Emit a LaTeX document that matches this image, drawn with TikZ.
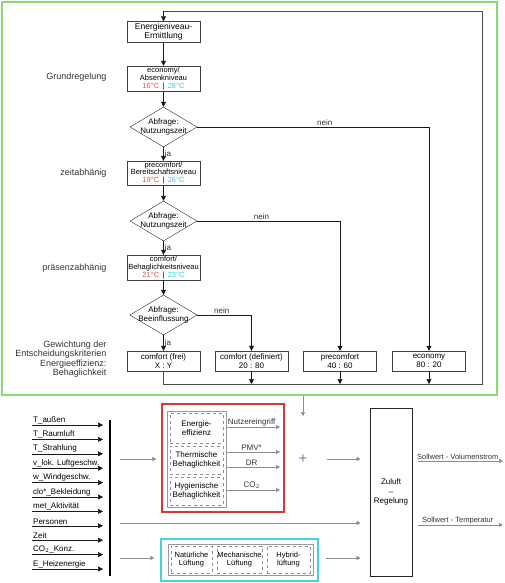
\documentclass[tikz,border=0pt]{standalone}
\usepackage{fontspec}
\setmainfont{Liberation Sans}
\usetikzlibrary{arrows.meta,shapes.geometric,positioning}
\definecolor{tred}{HTML}{D9534F}
\definecolor{tcyan}{HTML}{3CC8D8}
\definecolor{fgreen}{HTML}{86DD72}
\definecolor{fred}{HTML}{D03A3A}
\definecolor{fcyan}{HTML}{46D2E0}

\begin{document}
\begin{tikzpicture}[x=1pt, y=-1pt,
    stage/.style={draw=black!75, minimum width=73pt, minimum height=24pt, inner sep=0.5pt, align=center, font=\fontsize{7.5}{7.8}\selectfont},
    query/.style={draw=black!85, shape=diamond, aspect=1.7, minimum width=67pt, minimum height=40pt, inner sep=-2pt, align=center, font=\fontsize{8}{9}\selectfont},
    weight/.style={draw=black!75, minimum width=73pt, minimum height=20pt, inner sep=0.5pt, align=center, font=\fontsize{8}{8.5}\selectfont},
    side/.style={anchor=east, align=right, text=black!80, font=\fontsize{9}{9.5}\selectfont},
    lbl/.style={text=black!80, inner sep=1pt, font=\fontsize{8}{9}\selectfont},
    arr/.style={-{Triangle[length=5pt, width=5pt]}, black!90, semithick},
    loopline/.style={black!70, semithick},
    garr/.style={-{Triangle[length=4pt, width=4pt]}, black!45, semithick},
    inp/.style={anchor=south west, inner sep=1pt, font=\fontsize{8}{8.5}\selectfont},
    sub/.style={draw=black!45, dashed, inner sep=0.5pt, align=center, font=\fontsize{8}{9}\selectfont},
    inner/.style={draw=black!40, inner sep=0pt}
]
\useasboundingbox (0,0) rectangle (504,583);

% Regelkreis oben
\node[draw=fgreen, line width=2pt, minimum width=495pt, minimum height=393pt, inner sep=0pt] (ctrl) at (249,198.5) {};

\node[stage, minimum height=21pt, font=\fontsize{8.5}{9.5}\selectfont] (en) at (163.5,32) {Energieniveau-\\Ermittlung};
\node[stage, minimum height=25pt] (eco) at (163.5,78.5) {economy/\\Absenkniveau\\{\color{tred}16°C}\, | \,{\color{tcyan}28°C}};
\node[query] (q1) at (163.5,127) {Abfrage:\\Nutzungszeit};
\node[stage] (pre) at (163.5,173) {precomfort/\\Bereitschaftsniveau\\{\color{tred}19°C}\, | \,{\color{tcyan}26°C}};
\node[query] (q2) at (163.5,221) {Abfrage:\\Nutzungszeit};
\node[stage, minimum height=25pt] (com) at (163.5,267.5) {comfort/\\Behaglichkeitsniveau\\{\color{tred}21°C}\, | \,{\color{tcyan}23°C}};
\node[query] (q3) at (163.5,315) {Abfrage:\\Beeinflussung};

\node[weight] (cf) at (163.5,361) {comfort (frei)\\X : Y};
\node[weight] (cd) at (251.5,361) {comfort (definiert)\\20 : 80};
\node[weight] (pc) at (340,361) {precomfort\\40 : 60};
\node[weight] (ec) at (429,361) {economy\\80 : 20};

\node[side] (s1) at (110,77) {Grundregelung};
\node[side] (s2) at (110,173) {zeitabhänig};
\node[side] (s3) at (110,268) {präsenzabhänig};
\node[side] (s4) at (110,359) {Gewichtung der\\Entscheidungskriterien\\Energieeffizienz:\\Behaglichkeit};

\draw[arr] (en) -- (eco);
\draw[arr] (eco) -- (q1);
\draw[arr] (q1) -- node[lbl, right] {ja} (pre);
\draw[arr] (pre) -- (q2);
\draw[arr] (q2) -- node[lbl, right] {ja} (com);
\draw[arr] (com) -- (q3);
\draw[arr] (q3) -- node[lbl, right] {ja} (cf);

\draw[arr] (q1.east) -- node[lbl, above, pos=0.55] {nein} (q1.east -| ec) -- (ec);
\draw[arr] (q2.east) -- node[lbl, above, pos=0.45] {nein} (q2.east -| pc) -- (pc);
\draw[arr] (q3.east) -- node[lbl, above, pos=0.45] {nein} (q3.east -| cd) -- (cd);

% Rueckfuehrung
\coordinate (lb) at (163.5,384);
\coordinate (rb) at (482,384);
\coordinate (rt) at (482,11);
\coordinate (lt) at (163.5,11);
\draw[loopline] (cf) -- (lb) -- (rb) -- (rt) -- (lt);
\draw[arr] (lt) -- (en);
\draw[arr] (cd) -- (cd |- lb);
\draw[arr] (pc) -- (pc |- lb);
\draw[arr] (ec) -- (ec |- lb);

% Eingangsgroessen
\foreach \t [count=\i from 0] in {T\_außen, T\_Raumluft, T\_Strahlung, v\_lok. Luftgeschw., w\_Windgeschw., clo*\_Bekleidung, met\_Aktivität, Personen, Zeit, CO$_2$\_Konz., E\_Heizenergie} {
    \node[inp] (in\i) at (32,{425+14.4*\i}) {\t};
    \coordinate (ie\i) at (103,{425+14.4*\i});
    \draw[arr] (in\i.south west) -- (ie\i);
}
\coordinate (bt) at (110,420);
\coordinate (bb) at (110,576);
\draw[line width=1.2pt] (bt) -- (bb);

% Kriterien
\node[draw=fred, line width=1.2pt, minimum width=122pt, minimum height=108pt, inner sep=0pt] (crit) at (223,458) {};
\node[inner, minimum width=59pt, minimum height=96pt] (crin) at (196.5,459) {};
\node[sub, minimum width=53pt, minimum height=30pt] (ee) at (196.5,428) {Energie-\\effizienz};
\node[sub, minimum width=53pt, minimum height=28pt] (tb) at (196.5,460) {Thermische\\Behaglichkeit};
\node[sub, minimum width=53pt, minimum height=28pt] (hb) at (196.5,491) {Hygienische\\Behaglichkeit};

\coordinate (k1) at (280,427);
\coordinate (k2) at (280,452);
\coordinate (k3) at (280,467);
\coordinate (k4) at (280,490);
\draw[garr, shorten <=4pt] (ee.east |- k1) -- node[lbl, above] {Nutzereingriff} (k1);
\draw[garr, shorten <=4pt] (tb.east |- k2) -- node[lbl, above] {PMV*} (k2);
\draw[garr, shorten <=4pt] (tb.east |- k3) -- node[lbl, above] {DR} (k3);
\draw[garr, shorten <=4pt] (hb.east |- k4) -- node[lbl, above] {CO$_2$} (k4);

% Lueftungsarten
\node[draw=fcyan, line width=1.5pt, minimum width=157pt, minimum height=42pt, inner sep=0pt] (vent) at (239.5,560) {};
\node[inner, minimum width=145pt, minimum height=31pt] (vin) at (240.5,559.5) {};
\node[sub, minimum width=41pt, minimum height=27pt, font=\fontsize{7.5}{8.5}\selectfont] (nat) at (191.5,559.5) {Natürliche\\Lüftung};
\node[sub, minimum width=45pt, minimum height=27pt, font=\fontsize{7.5}{8.5}\selectfont] (mech) at (239.5,559.5) {Mechanische\\Lüftung};
\node[sub, minimum width=43pt, minimum height=27pt, font=\fontsize{7.5}{8.5}\selectfont] (hyb) at (288.5,559.5) {Hybrid-\\lüftung};

% Zuluft
\node[text=black!50, font=\fontsize{15}{15}\selectfont, inner sep=0pt] (plus) at (303,459) {+};
\node[draw=black!85, line width=1pt, minimum width=42pt, minimum height=168pt, align=center, font=\fontsize{8}{9.5}\selectfont] (zul) at (391,492) {Zuluft\\–\\Regelung};

\coordinate (pin) at (303,416);
\draw[garr] (ctrl.south -| plus) -- (pin);

\coordinate (g1) at (120,459);
\coordinate (g2) at (120,523);
\coordinate (g3) at (120,558);
\coordinate (g4) at (327,459);
\coordinate (g5) at (326,558);
\draw[garr, shorten >=5pt] (g1) -- (g1 -| crit.west);
\draw[garr, shorten >=9pt] (g2) -- (g2 -| zul.west);
\draw[garr, shorten >=6pt] (g3) -- (g3 -| vent.west);
\draw[garr, shorten >=9pt] (g4) -- (g4 -| zul.west);
\draw[garr, shorten >=9pt] (g5) -- (g5 -| zul.west);

\coordinate (o1) at (503,461);
\coordinate (o2) at (503,525);
\draw[garr, shorten <=5pt] (zul.east |- o1) -- node[lbl, above, font=\fontsize{7.5}{8}\selectfont] {Sollwert - Volumenstrom} (o1);
\draw[garr, shorten <=5pt] (zul.east |- o2) -- node[lbl, above, font=\fontsize{7.5}{8}\selectfont] {Sollwert - Temperatur} (o2);
\end{tikzpicture}
\end{document}
